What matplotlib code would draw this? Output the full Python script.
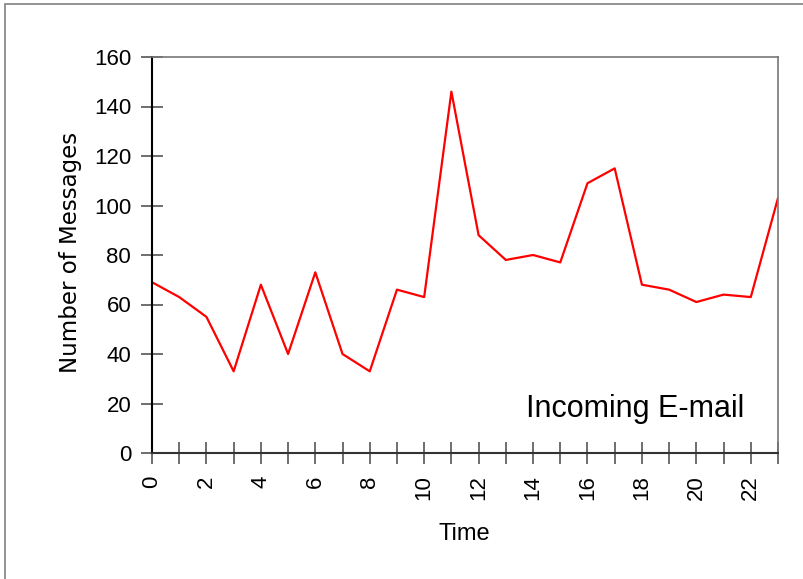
import matplotlib
matplotlib.use("Agg")
import matplotlib.pyplot as plt
from matplotlib.patches import Rectangle

hours = list(range(24))
messages = [69, 63, 55, 33, 68, 40, 73, 40, 33, 66, 63, 146,
            88, 78, 80, 77, 109, 115, 68, 66, 61, 64, 63, 103]
y_ticks = [0, 20, 40, 60, 80, 100, 120, 140, 160]
x_tick_labels = [str(h) if h % 2 == 0 else "" for h in hours]

W, H = 804, 579
fig = plt.figure(figsize=(W / 100, H / 100), dpi=100)
fig.patch.set_facecolor("white")

# outer frame
fig.patches.append(Rectangle((5 / W, -0.05), 1.2, 1 - 4 / H + 0.05,
                             transform=fig.transFigure, fill=False,
                             edgecolor="#808080", linewidth=1.2))

ax = fig.add_axes([152 / W, 1 - 453 / H, (778 - 152) / W, (453 - 57) / H])
ax.plot(hours, messages, color="#FF0000", linewidth=1.6)
ax.set_xlim(0, 23)
ax.set_ylim(0, 160)
ax.set_yticks(y_ticks)
ax.set_xticks(hours)
ax.set_xticklabels(x_tick_labels, rotation=90)

tick_font = "Liberation Sans"
for lab in ax.get_yticklabels() + ax.get_xticklabels():
    lab.set_fontfamily(tick_font)
    lab.set_fontsize(16)

ax.tick_params(axis="both", direction="inout", length=16, width=1.2,
               color="#555555", labelcolor="black")
ax.tick_params(axis="y", pad=7)
ax.tick_params(axis="x", pad=8)

ax.spines["left"].set_color("black")
ax.spines["left"].set_linewidth(1.5)
ax.spines["bottom"].set_color("#333333")
ax.spines["bottom"].set_linewidth(1.5)
for s in ("top", "right"):
    ax.spines[s].set_color("#777777")
    ax.spines[s].set_linewidth(1.2)

fig.text(77 / W, 1 - 252 / H, "Number of Messages", rotation=90,
         rotation_mode="anchor", ha="center", va="baseline",
         fontsize=16.5, family="DejaVu Sans")
fig.text(464 / W, 1 - 540 / H, "Time", ha="center", va="baseline",
         fontsize=17, family="Liberation Sans")
fig.text(526 / W, 1 - 417 / H, "Incoming E-mail", ha="left", va="baseline",
         fontsize=22, family="Liberation Sans")

fig.savefig("out.png", dpi=100, facecolor="white")
